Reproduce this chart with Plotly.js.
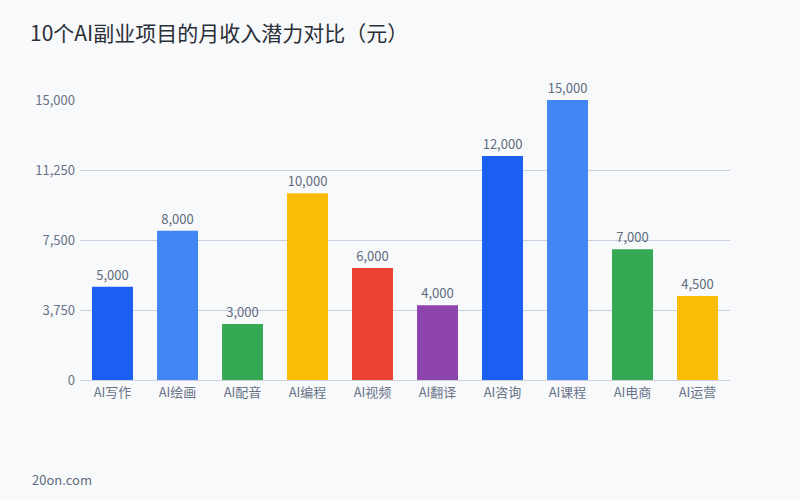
<!DOCTYPE html>
<html><head><meta charset="utf-8">
<script src="https://cdn.plot.ly/plotly-3.0.1.min.js"></script>
<style>html,body{margin:0;padding:0;background:#f8f9fb;}</style>
</head><body>
<div id="chart" style="width:800px;height:500px;"></div>
<script>
const categories = ["AI写作","AI绘画","AI配音","AI编程","AI视频","AI翻译","AI咨询","AI课程","AI电商","AI运营"];
const values = [5000, 8000, 3000, 10000, 6000, 4000, 12000, 15000, 7000, 4500];
const colors = ["#1a5ff2","#4285f4","#34a853","#fbbc05","#ea4335","#8e44ad","#1a5ff2","#4285f4","#34a853","#fbbc05"];
const yTicks = [0, 3750, 7500, 11250, 15000];
const font = "Noto Sans CJK SC, Noto Sans, sans-serif";

Plotly.newPlot("chart", [{
  type: "bar",
  x: categories,
  y: values,
  marker: {color: colors},
  text: values.map(v => v.toLocaleString("en-US")),
  textposition: "outside",
  cliponaxis: false,
  textfont: {family: font, size: 13, color: "#5f6b7e"},
  hoverinfo: "x+y"
}], {
  width: 800, height: 500,
  paper_bgcolor: "#f8f9fb",
  plot_bgcolor: "#f8f9fb",
  margin: {l: 80, r: 70, t: 100, b: 120},
  bargap: 0.37,
  font: {family: font, color: "#5f6b7e", size: 13},
  title: {text: "10个AI副业项目的月收入潜力对比（元）", x: 0.0375, xanchor: "left", y: 0.932, yanchor: "middle",
          font: {family: font, size: 21, color: "#2b2f38"}},
  xaxis: {showline: true, linecolor: "#c8d0e0", linewidth: 1, ticks: "", tickfont: {size: 13, color: "#687387"}},
  yaxis: {range: [0, 15000], tickvals: yTicks, ticktext: yTicks.map(v => v.toLocaleString("en-US")),
          gridcolor: "#c8d0e0", gridwidth: 1, zeroline: false, ticks: "", ticklen: 0, ticklabelstandoff: 4,
          tickfont: {size: 13, color: "#687387"}},
  showlegend: false,
  annotations: [{text: "20on.com", xref: "paper", yref: "paper", x: -0.077, y: -0.355, xanchor: "left", yanchor: "middle",
                 showarrow: false, font: {family: font, size: 13, color: "#5f6b7e"}}]
}, {displayModeBar: false, staticPlot: true});
</script>
</body></html>
